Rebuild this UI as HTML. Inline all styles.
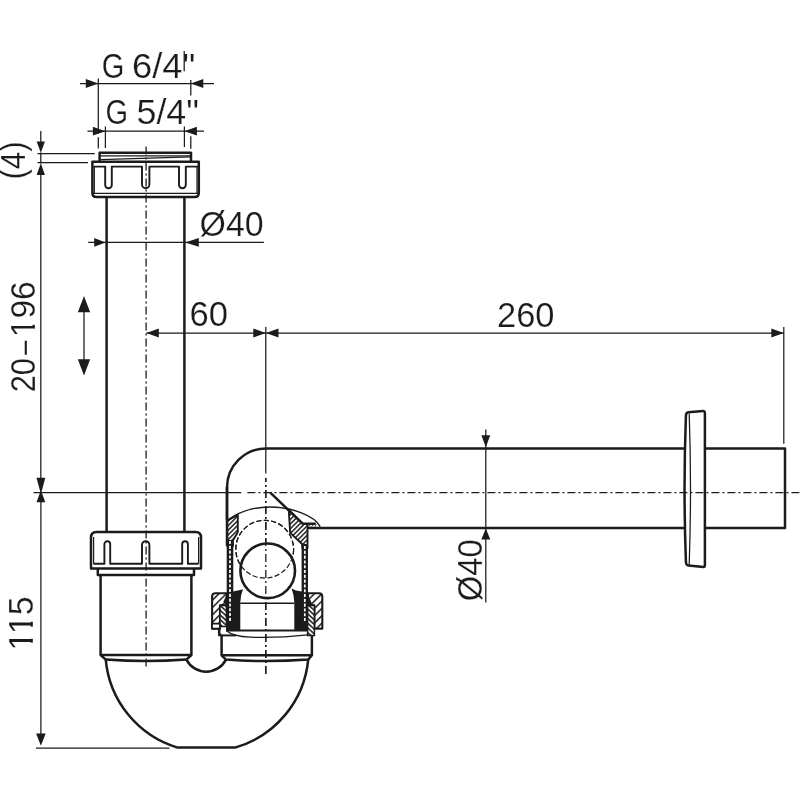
<!DOCTYPE html>
<html><head><meta charset="utf-8"><title>Siphon drawing</title>
<style>
html,body{margin:0;padding:0;background:#fff;}
svg{display:block;will-change:transform;}
text{font-family:"Liberation Sans",sans-serif;fill:#1b1b1b;stroke:#fff;stroke-width:0.22px;paint-order:fill stroke;}
.k{stroke:#1b1b1b;stroke-width:2.5;fill:none;stroke-linejoin:round;stroke-linecap:butt;}
.m{stroke:#1b1b1b;stroke-width:1.9;fill:none;stroke-linejoin:round;}
.t{stroke:#1b1b1b;stroke-width:1.25;fill:none;}
.c{stroke:#1b1b1b;stroke-width:1.3;fill:none;stroke-dasharray:8 3 2 3;}
.a polygon{fill:#1b1b1b;stroke:none;}
</style></head><body>
<svg width="800" height="800" viewBox="0 0 800 800">
<rect width="800" height="800" fill="#fff"/>
<line class="c" x1="146.1" y1="146.6" x2="146.1" y2="666.6" />
<line class="t" x1="265.8" y1="327" x2="265.8" y2="473.5" />
<line class="c" x1="265.8" y1="477.9" x2="265.8" y2="674.3" stroke-dashoffset="3.9"/>
<line class="t" x1="33.5" y1="492.7" x2="241.2" y2="492.7" />
<line class="c" x1="247.4" y1="492.7" x2="800" y2="492.7" />
<line class="t" x1="80" y1="83.5" x2="214" y2="83.5" />
<line class="t" x1="98.3" y1="78.5" x2="98.3" y2="133.5" />
<line class="t" x1="98.3" y1="137.2" x2="98.3" y2="148.6" />
<line class="t" x1="190.8" y1="80" x2="190.8" y2="95.6" />
<line class="t" x1="190.8" y1="136.2" x2="190.8" y2="148.8" />
<line class="t" x1="87.5" y1="131.2" x2="204" y2="131.2" />
<line class="t" x1="105.4" y1="126.5" x2="105.4" y2="148" />
<line class="t" x1="184.4" y1="126.5" x2="184.4" y2="147" />
<g class="a">
<polygon points="98.30,83.50 85.80,87.90 85.80,79.10"/>
<polygon points="190.80,83.50 203.30,79.10 203.30,87.90"/>
<polygon points="105.40,131.20 92.90,135.60 92.90,126.80"/>
<polygon points="184.40,131.20 196.90,126.80 196.90,135.60"/>
<polygon points="40.80,152.80 36.65,141.40 44.95,141.40"/>
<polygon points="40.80,163.20 44.95,174.90 36.65,174.90"/>
<polygon points="40.90,494.20 36.50,477.80 45.30,477.80"/>
<polygon points="40.90,490.20 45.30,502.20 36.50,502.20"/>
<polygon points="40.90,745.80 36.10,733.60 45.70,733.60"/>
<polygon points="105.60,242.40 94.20,246.70 94.20,238.10"/>
<polygon points="185.20,242.40 198.80,238.10 198.80,246.70"/>
<polygon points="146.30,333.00 158.80,328.60 158.80,337.40"/>
<polygon points="265.80,333.00 253.30,337.40 253.30,328.60"/>
<polygon points="266.00,333.00 278.50,328.60 278.50,337.40"/>
<polygon points="783.80,333.00 771.30,337.40 771.30,328.60"/>
<polygon points="485.80,447.20 481.40,435.20 490.20,435.20"/>
<polygon points="485.80,528.60 490.30,539.60 481.30,539.60"/>
<polygon points="84.00,296.00 90.15,312.30 77.85,312.30"/>
<polygon points="84.00,375.60 77.85,359.30 90.15,359.30"/>
</g>
<line class="t" x1="84" y1="310" x2="84" y2="362" />
<line class="t" x1="40.8" y1="131" x2="40.8" y2="142" />
<line class="t" x1="40.8" y1="152.5" x2="40.8" y2="163.5" />
<line class="t" x1="40.8" y1="174" x2="40.8" y2="480" />
<line class="t" x1="37.5" y1="153.5" x2="94.8" y2="153.5" />
<line class="t" x1="37.5" y1="162.5" x2="88" y2="162.5" />
<line class="t" x1="40.9" y1="500" x2="40.9" y2="735" />
<line class="t" x1="36" y1="748" x2="169.5" y2="748" />
<line class="t" x1="88.2" y1="242.4" x2="263.9" y2="242.4" />
<line class="t" x1="146.3" y1="333" x2="783.8" y2="333" />
<line class="t" x1="783.8" y1="327" x2="783.8" y2="443.8" />
<line class="t" x1="485.8" y1="429.5" x2="485.8" y2="602.5" />
<text x="101.7" y="77.8" font-size="35.5" textLength="22.6" lengthAdjust="spacingAndGlyphs">G</text>
<text x="132" y="77.8" font-size="35.5" textLength="63.3" lengthAdjust="spacingAndGlyphs">6/4"</text>
<line class="t" x1="184.2" y1="51" x2="184.2" y2="71.2" />
<text x="105.5" y="124.3" font-size="35.5" textLength="22.6" lengthAdjust="spacingAndGlyphs">G</text>
<text x="136.5" y="124.3" font-size="35.5" textLength="62.5" lengthAdjust="spacingAndGlyphs">5/4"</text>
<text x="199.6" y="236" font-size="35.5" textLength="64" lengthAdjust="spacingAndGlyphs">Ø40</text>
<text x="189.5" y="325.6" font-size="35.5" textLength="38.5" lengthAdjust="spacingAndGlyphs">60</text>
<text x="497" y="327.3" font-size="35.5" textLength="57.5" lengthAdjust="spacingAndGlyphs">260</text>
<text x="25.2" y="179.5" font-size="35.5" textLength="38" lengthAdjust="spacingAndGlyphs" transform="rotate(-90 25.2 179.5)">(4)</text>
<text x="34.7" y="392.3" font-size="35.5" textLength="34.2" lengthAdjust="spacingAndGlyphs" transform="rotate(-90 34.7 392.3)">20</text>
<text x="34.7" y="354.7" font-size="35.5" textLength="14.1" lengthAdjust="spacingAndGlyphs" transform="rotate(-90 34.7 354.7)">–</text>
<text x="34.7" y="337.2" font-size="35.5" textLength="55.8" lengthAdjust="spacingAndGlyphs" transform="rotate(-90 34.7 337.2)">196</text>
<text x="32.6" y="650.4" font-size="35.5" textLength="54" lengthAdjust="spacingAndGlyphs" transform="rotate(-90 32.6 650.4)">115</text>
<text x="482.3" y="601.2" font-size="35.5" textLength="62" lengthAdjust="spacingAndGlyphs" transform="rotate(-90 482.3 601.2)">Ø40</text>
<rect x="29.6" y="616.5" width="4" height="5.3" fill="#fff"/>
<rect x="29.6" y="626.6" width="4" height="12.2" fill="#fff"/>
<rect x="29.6" y="642.6" width="4" height="6.4" fill="#fff"/>
<rect x="31.6" y="319.3" width="4" height="5.5" fill="#fff"/>
<rect x="31.6" y="328.6" width="4" height="6.6" fill="#fff"/>
<path class="k" d="M99.6,161.5 L99.6,152.7 L191,152.7 L191,161.5" />
<line class="t" x1="100.5" y1="155.9" x2="190.5" y2="155.9" />
<line class="t" x1="100.5" y1="159.6" x2="190.5" y2="156.8" />
<path class="k" d="M92.4,161.7 L198.8,161.7 L198.8,193 Q198.8,197 194.8,197 L96.4,197 Q92.4,197 92.4,193 Z" />
<path class="m" d="M93.5,166.6 L105.2,166.6 L105.2,184.89999999999998 A3.299999999999997,3.299999999999997 0 0 0 111.8,184.89999999999998 L111.8,166.6 L142,166.6 L142,184.5 A3.700000000000003,3.700000000000003 0 0 0 149.4,184.5 L149.4,166.6 L179,166.6 L179,184.79999999999998 A3.4000000000000057,3.4000000000000057 0 0 0 185.8,184.79999999999998 L185.8,166.6 L198.3,166.6" />
<line class="t" x1="93" y1="193.3" x2="199" y2="193.3" />
<line class="t" x1="94.3" y1="166.6" x2="94.3" y2="193.3" />
<line class="t" x1="197" y1="166.6" x2="197" y2="193.3" />
<line class="k" x1="106.6" y1="197" x2="106.6" y2="532" />
<line class="k" x1="184.4" y1="197" x2="184.4" y2="532" />
<path class="k" d="M91,568.4 L91,537.5 Q91,532 96.5,532 L195.5,532 Q201,532 201,537.5 L201,568.4 Z" />
<path class="m" d="M93.5,563.8 L104.4,563.8 L104.4,544.1 A2.8999999999999986,2.8999999999999986 0 0 1 110.2,544.1 L110.2,563.8 L142,563.8 L142,544.9000000000001 A3.700000000000003,3.700000000000003 0 0 1 149.4,544.9000000000001 L149.4,563.8 L182.2,563.8 L182.2,544.0500000000001 A2.8500000000000085,2.8500000000000085 0 0 1 187.9,544.0500000000001 L187.9,563.8 L198.6,563.8" />
<line class="t" x1="93.6" y1="537" x2="93.6" y2="563.8" />
<line class="t" x1="198.6" y1="537" x2="198.6" y2="563.8" />
<path class="k" d="M97.8,568.4 L97.8,575 L194,575 L194,568.4" />
<path class="k" d="M100.6,575 L100.6,655 L105.75,659.6 M191.4,575 L191.4,655 L186.4,659.6" />
<line class="k" x1="100.6" y1="655" x2="191.4" y2="655" />
<path class="k" d="M105.75,659.6 Q146,662.6 186.4,659.6" />
<path class="k" d="M105.75,659.6 A101.5,101.5 0 0 0 177.5,747.6 L235,747.6 A101.5,101.5 0 0 0 308.2,659.6" />
<path class="k" d="M186.4,659.6 A22.3,22.3 0 0 0 226,659.6" />
<path class="k" d="M221.6,634.8 L221.6,655.3 L226,659.6 Q266,662.6 308.2,659.6 L311.9,655.3 L311.9,634.8" />
<line class="k" x1="221.6" y1="655.3" x2="311.9" y2="655.3" />
<path class="k" d="M684.8,448.5 L266,448.5 A39,39 0 0 0 227,487.5 L227,519.5" />
<path class="k" d="M705,448.5 L785,448.5 L785,528.1 L705,528.1" />
<line class="k" x1="306.5" y1="528.1" x2="684.8" y2="528.1" />
<path class="k" d="M688.2,412.2 Q685.8,412.4 685.9,416.5 Q683.2,488 685.9,561 Q685.8,565.5 688.6,565.5 L703.4,566.9 Q704.9,566.9 704.9,565.2 L704.9,413 Q704.9,411 703,411.1 Z" fill="#fff"/>
<path class="t" d="M689.2,413.4 Q691.8,488 689.2,564.8" />
<defs>
<pattern id="hA" width="3.3" height="3.3" patternUnits="userSpaceOnUse" patternTransform="rotate(-45)"><rect width="3.3" height="3.3" fill="#fff"/><line x1="0" y1="1.65" x2="3.3" y2="1.65" stroke="#1b1b1b" stroke-width="1.45"/></pattern>
<pattern id="hB" width="5.2" height="5.2" patternUnits="userSpaceOnUse" patternTransform="rotate(-45)"><rect width="5.2" height="5.2" fill="#fff"/><line x1="0" y1="2.6" x2="5.2" y2="2.6" stroke="#1b1b1b" stroke-width="1.5"/></pattern>
<pattern id="hC" width="3.5" height="3.5" patternUnits="userSpaceOnUse" patternTransform="rotate(42)"><rect width="3.5" height="3.5" fill="#fff"/><line x1="0" y1="1.75" x2="3.5" y2="1.75" stroke="#1b1b1b" stroke-width="1.55"/></pattern>
</defs>
<circle cx="264.7" cy="549.2" r="28.9" fill="none" stroke="#1b1b1b" stroke-width="1.2" stroke-dasharray="5.2 2.3"/>
<circle cx="267.7" cy="570.8" r="27.3" fill="#fff" stroke="#1b1b1b" stroke-width="2.6"/>
<circle cx="264.7" cy="549.2" r="28.9" fill="none" stroke="#1b1b1b" stroke-width="1.2" stroke-dasharray="5.2 2.3"/>
<line class="c" x1="265.8" y1="477.9" x2="265.8" y2="674.3" stroke-dashoffset="3.9"/>
<path class="t" style="stroke-width:1.4" d="M240.2,603.2 L294.4,603.2"/>
<path fill="#1b1b1b" d="M231.5,591.8 L239,590.3 L243,589.2 Q240.6,595 240.3,602 L240.3,630.4 L226,630.4 L226,621.5 L231.5,621.5 Z"/>
<path fill="#1b1b1b" d="M291.6,588.4 L296,590.4 L303.2,591.8 L303.2,621.5 L307.2,621.5 L307.2,630.4 L294.3,630.4 L294.3,602 Q294,595 291.6,588.4 Z"/>
<path fill="#1b1b1b" d="M223.4,601.5 L227,594.2 L227,606 Z"/>
<path fill="#1b1b1b" d="M307.8,594.5 L312.4,604.6 L307.8,606 Z"/>
<path fill="url(#hA)" stroke="#1b1b1b" stroke-width="1.9" stroke-linejoin="round" d="M227.2,520.6 L237.8,514.8 L237.8,532.2 L232.9,540.4 L232.9,546 L227.2,546 Z"/>
<path fill="url(#hA)" stroke="#1b1b1b" stroke-width="1.9" stroke-linejoin="round" d="M288.7,509.6 L303,523.9 L307.5,523.9 L307.5,548 L302.3,548 L302.3,544.3 L290.2,532.9 Z"/>
<line x1="230" y1="540" x2="230" y2="623" stroke="#1b1b1b" stroke-width="6.6"/>
<line x1="230" y1="541" x2="230" y2="622" stroke="#fff" stroke-width="1.7" stroke-dasharray="3.1 1.7"/>
<line x1="304.8" y1="544" x2="304.8" y2="623" stroke="#1b1b1b" stroke-width="6.4"/>
<line x1="304.8" y1="546" x2="304.8" y2="622" stroke="#fff" stroke-width="1.7" stroke-dasharray="3.1 1.7"/>
<line class="k" x1="227" y1="487" x2="227" y2="546"/>
<path fill="url(#hB)" stroke="#1b1b1b" stroke-width="2.1" stroke-linejoin="round" d="M226.6,593.2 L215.4,593.2 Q212.1,593.2 212.1,596.5 L212.1,628.6 L220,628.6 L220,605.4 L226.6,605.4 Z"/>
<path fill="#fff" stroke="#1b1b1b" stroke-width="1.6" d="M212.1,623.6 L220,623.6 L220,628.6 L212.1,628.6 Z"/>
<path fill="url(#hC)" stroke="#1b1b1b" stroke-width="1.5" d="M220,605.4 L226.4,605.4 L226.4,626.6 L220,626.6 Z"/>
<path fill="url(#hB)" stroke="#1b1b1b" stroke-width="2.1" stroke-linejoin="round" d="M308,593.2 L319,593.2 Q322.3,593.2 322.3,596.5 L322.3,628.6 L314.4,628.6 L314.4,605.4 L308,605.4 Z"/>
<path fill="url(#hC)" stroke="#1b1b1b" stroke-width="1.5" d="M307.6,605.4 L314.4,605.4 L314.4,635.4 L307.6,635.4 Z"/>
<path fill="#1b1b1b" d="M223.4,601.5 L227,594.2 L227,606 Z"/>
<path fill="#1b1b1b" d="M307.8,594.5 L312.4,604.6 L307.8,606 Z"/>
<path class="k" style="stroke-width:2" d="M226,630.4 L307.4,630.4"/>
<path class="k" d="M219.2,628.6 L219.2,634.9 L221.6,634.9"/>
<path class="k" style="stroke-width:2" d="M221.6,635.4 L236,635.4"/>
<path class="t" style="stroke-width:1.3" d="M226.5,630.8 Q233,636.5 250,637.2 Q280,638 307.4,634.8"/>
<path class="t" style="stroke-width:1.4" d="M227.2,520.6 Q245,507 270,507 C292,507 315,516 320.2,526.6"/>
<path class="k" d="M270.3,492.7 L302.6,523.6 L315.8,523.8"/>
<path class="t" style="stroke-width:0.9" d="M308.5,526.6 L310.3,524.8 M311.6,526.6 L313.4,524.8 M314.7,526.6 L316.5,524.8"/>
</svg>
</body></html>
